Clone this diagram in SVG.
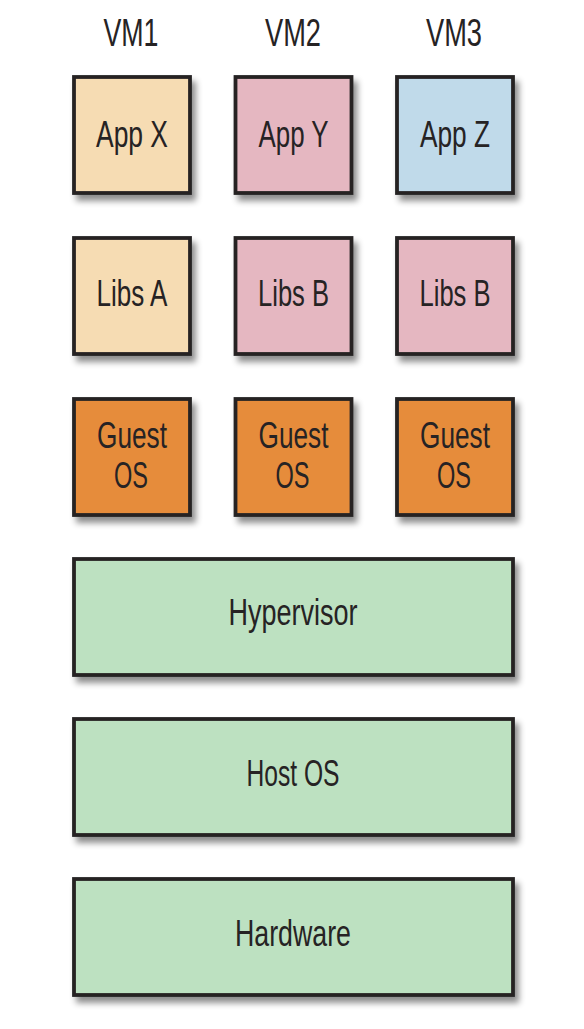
<svg xmlns="http://www.w3.org/2000/svg" width="584" height="1029" viewBox="0 0 584 1029">
<style>
.b{stroke:#262324;stroke-width:3.8;filter:url(#sh)}
.t{font-family:"Liberation Sans",Arial,sans-serif;font-size:36px;fill:#262324;text-anchor:middle}
.v{font-family:"Liberation Sans",Arial,sans-serif;font-size:38px;fill:#262324;text-anchor:middle}
.tan{fill:#f6dcb3}.pink{fill:#e5b7c1}.blue{fill:#c0daea}.org{fill:#e68c3a}.grn{fill:#bde1c1}
</style>
<defs>
<filter id="sh" x="-10%" y="-10%" width="130%" height="130%">
<feDropShadow dx="4" dy="6" stdDeviation="3" flood-color="#000" flood-opacity="0.45"/>
</filter>
</defs>
<rect width="584" height="1029" fill="#fff"/>
<g id="labels">
<text class="v" x="131" y="46" textLength="55" lengthAdjust="spacingAndGlyphs">VM1</text>
<text class="v" x="293" y="46" textLength="56" lengthAdjust="spacingAndGlyphs">VM2</text>
<text class="v" x="454" y="46" textLength="56" lengthAdjust="spacingAndGlyphs">VM3</text>
</g>
<g id="appX"><rect class="b tan" x="74" y="77" width="116" height="116"/><text class="t" x="132" y="147" textLength="72" lengthAdjust="spacingAndGlyphs">App X</text></g>
<g id="appY"><rect class="b pink" x="235.5" y="77" width="116" height="116"/><text class="t" x="293.5" y="147" textLength="70" lengthAdjust="spacingAndGlyphs">App Y</text></g>
<g id="appZ"><rect class="b blue" x="397" y="77" width="116" height="116"/><text class="t" x="455" y="147" textLength="70" lengthAdjust="spacingAndGlyphs">App Z</text></g>
<g id="libsA"><rect class="b tan" x="74" y="238" width="116" height="116"/><text class="t" x="132" y="306" textLength="71" lengthAdjust="spacingAndGlyphs">Libs A</text></g>
<g id="libsB1"><rect class="b pink" x="235.5" y="238" width="116" height="116"/><text class="t" x="293.5" y="306" textLength="71" lengthAdjust="spacingAndGlyphs">Libs B</text></g>
<g id="libsB2"><rect class="b pink" x="397" y="238" width="116" height="116"/><text class="t" x="455" y="306" textLength="71" lengthAdjust="spacingAndGlyphs">Libs B</text></g>
<g id="guest1"><rect class="b org" x="74" y="399" width="116" height="116"/><text class="t" x="132" y="448" textLength="70" lengthAdjust="spacingAndGlyphs">Guest</text><text class="t" x="131" y="488" textLength="34" lengthAdjust="spacingAndGlyphs">OS</text></g>
<g id="guest2"><rect class="b org" x="235.5" y="399" width="116" height="116"/><text class="t" x="293.5" y="448" textLength="70" lengthAdjust="spacingAndGlyphs">Guest</text><text class="t" x="292.5" y="488" textLength="34" lengthAdjust="spacingAndGlyphs">OS</text></g>
<g id="guest3"><rect class="b org" x="397" y="399" width="116" height="116"/><text class="t" x="455" y="448" textLength="70" lengthAdjust="spacingAndGlyphs">Guest</text><text class="t" x="454" y="488" textLength="34" lengthAdjust="spacingAndGlyphs">OS</text></g>
<g id="hypervisor"><rect class="b grn" x="74" y="559" width="439" height="116"/><text class="t" x="293" y="625" textLength="129" lengthAdjust="spacingAndGlyphs">Hypervisor</text></g>
<g id="hostos"><rect class="b grn" x="74" y="719" width="439" height="116"/><text class="t" x="293" y="786" textLength="93" lengthAdjust="spacingAndGlyphs">Host OS</text></g>
<g id="hardware"><rect class="b grn" x="74" y="879" width="439" height="116"/><text class="t" x="293" y="946" textLength="116" lengthAdjust="spacingAndGlyphs">Hardware</text></g>
<g id="connectors"></g>
</svg>
